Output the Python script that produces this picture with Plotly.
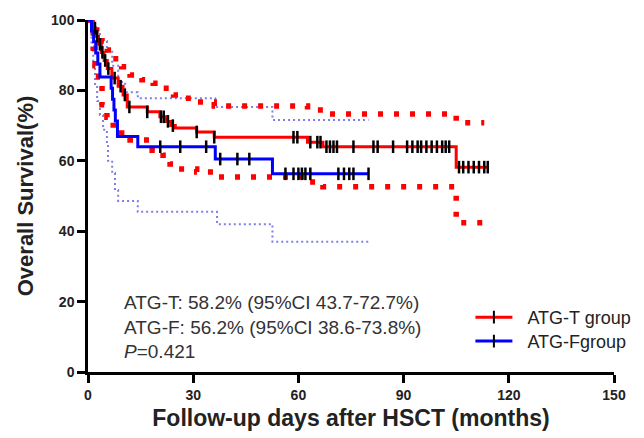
import plotly.graph_objects as go

# ---------------- data ----------------
# ATG-T group Kaplan-Meier step curve
t_time = [0, 1.5, 2.2, 3.0, 3.8, 4.6, 5.5, 6.8, 8.6, 10.0, 11.2, 16.9, 20.5, 22.2, 23.6, 24.9, 31.0, 36.0, 62.6, 67.0, 105.0, 114.0]
t_surv = [100, 97.7, 95.4, 93.1, 90.8, 88.5, 86.2, 83.5, 81.2, 78.7, 75.3, 73.9, 72.5, 71.2, 70.0, 69.3, 68.2, 66.7, 65.3, 64.0, 58.2, 58.2]
# ATG-T 95% CI bands
t_up_time = [0, 2.5, 4.0, 5.5, 7.2, 9.6, 12.0, 15.4, 18.6, 21.5, 24.4, 27.7, 31.0, 36.0, 62.6, 67.0, 105.0, 113.0]
t_up_val = [100, 97, 94, 91.5, 89, 86.7, 84.4, 83, 82, 80.6, 78.7, 77.8, 76.7, 75.6, 74.4, 73.3, 70.8, 70.8]
t_lo_time = [0, 1.5, 2.0, 3.0, 4.0, 5.4, 7.2, 9.6, 12.0, 18.3, 21.4, 23.4, 24.9, 31.0, 36.0, 62.6, 67.0, 105.0, 113.0]
t_lo_val = [100, 92, 87, 83.8, 75.9, 72.4, 69.3, 66.8, 65.9, 63, 61.6, 59.1, 57.7, 56.8, 55.4, 54.0, 52.6, 42.4, 42.4]
# ATG-T censored observations (months)
t_cens = [2.0, 2.6, 3.4, 4.1, 4.9, 5.8, 7.6, 9.3, 10.5, 11.8, 16.9, 20.8, 21.6, 22.8, 24.2, 31.0, 36.0,
          58.6, 59.7, 63.4, 65.4, 66.3, 68.0, 69.0, 70.0, 71.0, 75.7, 81.4, 82.6, 87.0, 91.0, 92.5, 94.0,
          95.0, 96.5, 98.0, 99.5, 101.0, 102.0, 103.0, 105.8, 107.0, 108.5, 110.0, 111.5, 113.0, 114.0]

# ATG-F group Kaplan-Meier step curve
f_time = [0, 1.0, 1.6, 2.2, 2.8, 3.4, 6.6, 7.0, 7.4, 7.8, 8.4, 14.2, 36.3, 52.6, 80.0]
f_surv = [100, 96.9, 93.8, 90.6, 87.5, 83.8, 80.6, 77.5, 74.4, 71.3, 66.9, 64.0, 60.5, 56.3, 56.3]
# ATG-F 95% CI bands
f_up_time = [0, 2.0, 3.4, 5.4, 6.9, 8.6, 10.6, 14.2, 36.3, 52.6, 80.0]
f_up_val = [100, 97, 94, 91, 87, 82.4, 79.5, 77.8, 75.3, 71.6, 71.6]
f_lo_time = [0, 1.0, 1.5, 2.0, 2.6, 3.4, 4.3, 5.4, 5.7, 6.9, 7.7, 8.6, 14.2, 36.8, 52.6, 80.0]
f_lo_val = [100, 92, 87, 81.5, 77, 73, 68.8, 65, 60, 56.5, 51.7, 48.6, 45.5, 42, 37, 37]
# ATG-F censored observations (months)
f_cens = [20.6, 26.3, 33.7, 37.7, 42.6, 46.0, 56.3, 58.6, 60.0, 61.0, 62.0, 63.4, 71.4, 73.0, 74.5, 75.7, 80.0]

x_ticks = [0, 30, 60, 90, 120, 150]
y_ticks = [0, 20, 40, 60, 80, 100]
group_names = ["ATG-T group", "ATG-Fgroup"]
stats_lines = ["ATG-T: 58.2% (95%CI 43.7-72.7%)", "ATG-F: 56.2% (95%CI 38.6-73.8%)", "<i>P</i>=0.421"]

RED = "#ff0000"
BLUE = "#0000ff"
CI_BLUE = "#7f7fe6"
FONT = "Arial, Liberation Sans, sans-serif"


def step_value(times, vals, t):
    v = vals[0]
    for tt, vv in zip(times, vals):
        if tt <= t:
            v = vv
    return v


fig = go.Figure()

# CI bands
fig.add_trace(go.Scatter(x=f_up_time, y=f_up_val, mode="lines", line=dict(color=CI_BLUE, width=2, dash="2px,3px", shape="hv"), showlegend=False, hoverinfo="skip"))
fig.add_trace(go.Scatter(x=f_lo_time, y=f_lo_val, mode="lines", line=dict(color=CI_BLUE, width=2, dash="2px,3px", shape="hv"), showlegend=False, hoverinfo="skip"))
fig.add_trace(go.Scatter(x=t_up_time, y=t_up_val, mode="lines", line=dict(color=RED, width=5.5, dash="5px,11px", shape="hv"), showlegend=False, hoverinfo="skip"))
fig.add_trace(go.Scatter(x=t_lo_time, y=t_lo_val, mode="lines", line=dict(color=RED, width=5.5, dash="5px,11px", shape="hv"), showlegend=False, hoverinfo="skip"))

# survival curves
fig.add_trace(go.Scatter(x=t_time, y=t_surv, mode="lines", line=dict(color=RED, width=3, shape="hv"), showlegend=False))
fig.add_trace(go.Scatter(x=f_time, y=f_surv, mode="lines", line=dict(color=BLUE, width=3, shape="hv"), showlegend=False))

# censor marks
fig.add_trace(go.Scatter(x=t_cens, y=[step_value(t_time, t_surv, c) for c in t_cens], mode="markers",
                         marker=dict(symbol="line-ns", size=9, line=dict(color="black", width=2.5)), showlegend=False))
fig.add_trace(go.Scatter(x=f_cens, y=[step_value(f_time, f_surv, c) for c in f_cens], mode="markers",
                         marker=dict(symbol="line-ns", size=9, line=dict(color="black", width=2.5)), showlegend=False))

# legend entries (one legend box per group so the row spacing can match)
for name, col, lg in zip(group_names, [RED, BLUE], ["legend", "legend2"]):
    fig.add_trace(go.Scatter(x=[None], y=[None], mode="lines+markers", name="\u00a0\u00a0" + name,
                             legend=lg, line=dict(color=col, width=3),
                             marker=dict(symbol="line-ns", size=9, line=dict(color="black", width=2))))

fig.add_annotation(x=0.064, y=0.128, xref="paper", yref="paper", xanchor="left", yanchor="middle",
                   align="left", showarrow=False, text="<br>".join(stats_lines),
                   font=dict(family=FONT, size=19, color="#333333"))

legend_style = dict(xanchor="left", yanchor="top", bgcolor="rgba(0,0,0,0)",
                    font=dict(family=FONT, size=18, color="#222222"), itemwidth=37)

fig.update_layout(
    width=644, height=438,
    margin=dict(l=80, r=38, t=12, b=74),
    paper_bgcolor="white", plot_bgcolor="white",
    font=dict(family=FONT, color="#222222"),
    legend=dict(x=0.727, y=0.2075, **legend_style),
    legend2=dict(x=0.727, y=0.1395, **legend_style),
    xaxis=dict(range=[0, 150], tickvals=x_ticks, ticks="outside", ticklen=8, tickwidth=2.5, tickcolor="black",
               showline=True, linecolor="black", linewidth=2.5, showgrid=False, zeroline=False, automargin=False,
               tickfont=dict(family=FONT, size=14, color="#222222", weight="bold"),
               title=dict(text="<b>Follow-up days after HSCT (months)</b>", font=dict(family=FONT, size=23, color="#222222"), standoff=9)),
    yaxis=dict(range=[0, 100], tickvals=y_ticks, ticks="outside", ticklen=8, tickwidth=2.5, tickcolor="black",
               showline=True, linecolor="black", linewidth=2.5, showgrid=False, zeroline=False, automargin=False,
               tickfont=dict(family=FONT, size=14, color="#222222", weight="bold"),
               title=dict(text="<b>Overall Survival(%)</b>", font=dict(family=FONT, size=22, color="#222222"), standoff=12)),
)

fig.write_html("out.html")
